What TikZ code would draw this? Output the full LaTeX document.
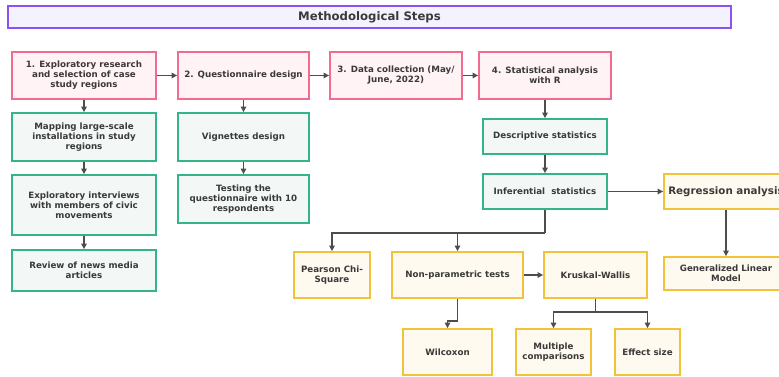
\documentclass[tikz,border=0pt]{standalone}
\usepackage{fontspec}
\setmainfont{DejaVu Sans}
\usetikzlibrary{arrows.meta}
\definecolor{pinkb}{HTML}{F26A8D}
\definecolor{pinkf}{HTML}{FFF3F5}
\definecolor{greenb}{HTML}{33B585}
\definecolor{greenf}{HTML}{F3F7F6}
\definecolor{yelb}{HTML}{F2C23A}
\definecolor{yelf}{HTML}{FFFAF0}
\definecolor{titb}{HTML}{8A52F2}
\definecolor{titf}{HTML}{F4F2FF}
\definecolor{txt}{HTML}{3A3A3A}
\definecolor{arrc}{HTML}{4D4D4D}
\tikzset{
  base/.style={draw, line width=1.8pt, align=center, inner sep=1pt, text=txt,
    font=\fontsize{8.7}{10}\selectfont\bfseries},
  pinkbox/.style={base, draw=pinkb, fill=pinkf},
  greenbox/.style={base, draw=greenb, fill=greenf},
  yelbox/.style={base, draw=yelb, fill=yelf},
  arr/.style={draw=arrc, line width=1.6pt, -{Triangle[length=5.5pt,width=5.5pt]}},
  ln/.style={draw=arrc, line width=1.6pt},
}
\begin{document}
\begin{tikzpicture}[x=1pt,y=-1pt]
\useasboundingbox (0,0) rectangle (779,376);
\clip (0,0) rectangle (779,376);
\node[draw=titb, fill=titf, line width=1.8pt, minimum width=723pt, minimum height=22pt, text=txt,
  font=\fontsize{11.7}{13}\selectfont\bfseries] (title) at (369.5,17) {Methodological Steps};
% row 1
\node[pinkbox, minimum width=144pt, minimum height=47pt] (b1) at (84,75.5) {1. Exploratory research\\and selection of case\\study regions};
\node[pinkbox, minimum width=131pt, minimum height=47pt] (b2) at (243.5,75.5) {2. Questionnaire design};
\node[pinkbox, minimum width=132pt, minimum height=47pt] (b3) at (396,75.5) {3. Data collection (May/\\June, 2022)};
\node[pinkbox, minimum width=132pt, minimum height=47pt] (b4) at (545,75.5) {4. Statistical analysis\\with R};
% column 1
\node[greenbox, minimum width=144pt, minimum height=48pt] (g1) at (84,137) {Mapping large-scale\\installations in study\\regions};
\node[greenbox, minimum width=144pt, minimum height=60pt] (g2) at (84,205) {Exploratory interviews\\with members of civic\\movements};
\node[greenbox, minimum width=144pt, minimum height=41pt] (g3) at (84,270.5) {Review of news media\\articles};
% column 2
\node[greenbox, minimum width=131pt, minimum height=48pt] (v1) at (243.5,137) {Vignettes design};
\node[greenbox, minimum width=131pt, minimum height=48pt] (v2) at (243.5,199) {Testing the\\questionnaire with 10\\respondents};
% column 4
\node[greenbox, minimum width=124pt, minimum height=35pt] (d1) at (545,136.5) {Descriptive statistics};
\node[greenbox, minimum width=124pt, minimum height=35pt] (d2) at (545,191.5) {Inferential\ \ statistics};
\node[yelbox, minimum width=124pt, minimum height=35pt, font=\fontsize{10.3}{12}\selectfont\bfseries] (r1) at (726,191.5) {Regression analysis};
\node[yelbox, minimum width=124pt, minimum height=33pt] (r2) at (726,273.5) {Generalized Linear\\Model};
\node[yelbox, minimum width=76pt, minimum height=46pt] (p1) at (332,275) {Pearson Chi-\\Square};
\node[yelbox, minimum width=131pt, minimum height=46pt] (p2) at (457.5,275) {Non-parametric tests};
\node[yelbox, minimum width=103pt, minimum height=46pt] (p3) at (595.5,275) {Kruskal-Wallis};
\node[yelbox, minimum width=89pt, minimum height=46pt] (w1) at (447.5,352) {Wilcoxon};
\node[yelbox, minimum width=75pt, minimum height=46pt] (w2) at (553.5,352) {Multiple\\comparisons};
\node[yelbox, minimum width=65pt, minimum height=46pt] (w3) at (647.5,352) {Effect size};
% connectors
\draw[arr] (b1) -- (b2);
\draw[arr] (b2) -- (b3);
\draw[arr] (b3) -- (b4);
\draw[arr] (b1) -- (g1);
\draw[arr] (g1) -- (g2);
\draw[arr] (g2) -- (g3);
\draw[arr] (b2) -- (v1);
\draw[arr] (v1) -- (v2);
\draw[arr] (b4) -- (d1);
\draw[arr] (d1) -- (d2);
\draw[arr] (d2) -- (r1);
\draw[arr] (r1) -- (r2);
\coordinate (j1) at (545,233);
\draw[ln] (d2.south) -- (j1);
\draw[arr] (j1) -| (p1.north);
\draw[arr] (j1) -| (p2.north);
\draw[arr] (p2) -- (p3);
\coordinate (j2) at (457.5,321);
\draw[ln] (p2.south) -- (j2);
\draw[arr] (j2) -| (w1.north);
\coordinate (j3) at (595.5,312);
\draw[ln] (p3.south) -- (j3);
\draw[arr] (j3) -| (w2.north);
\draw[arr] (j3) -| (w3.north);
\end{tikzpicture}
\end{document}
